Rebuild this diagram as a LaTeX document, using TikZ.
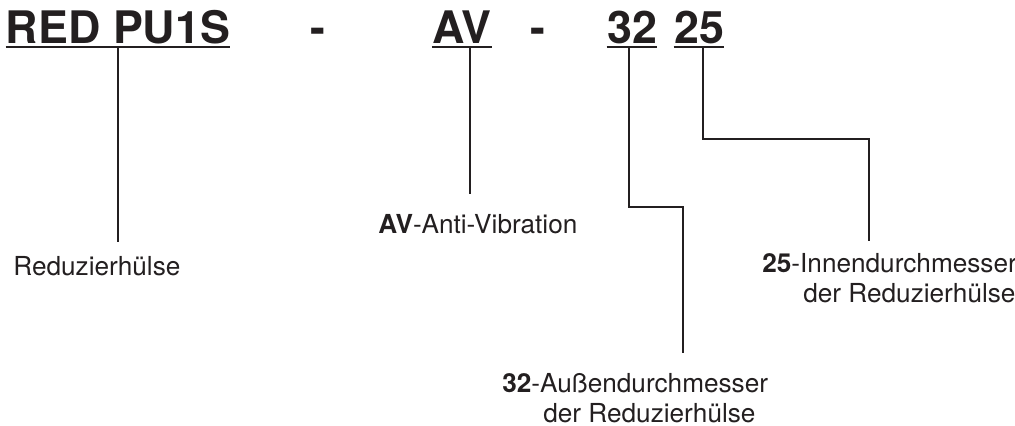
\documentclass[tikz,border=0pt]{standalone}
\usepackage{fontspec}
\setmainfont{TeX Gyre Heros}
\definecolor{ink}{RGB}{35,31,32}
\tikzset{
  code/.style={font=\fontsize{25.5pt}{30pt}\selectfont\bfseries, text=ink, inner sep=0, anchor=base},
  lab/.style={font=\fontsize{14.9pt}{17.07pt}\selectfont, text=ink, inner sep=0, align=left},
  uline/.style={draw=ink, line width=1.2pt},
  lead/.style={draw=ink, line width=1.25pt}
}
\begin{document}
\begin{tikzpicture}[x=0.02cm, y=-0.02cm]
  \useasboundingbox (0,0) rectangle (1015,426);
  \coordinate (ul) at (0,47);
  % type code
  \node[code] (red) at (118,43) {RED PU1S};
  \node[code] (dash1) at (318,43) {-};
  \node[code] (av) at (462,43) {AV};
  \node[code] (dash2) at (538,43) {-};
  \node[code] (n32) at (632,43) {32};
  \node[code] (n25) at (699,43) {25};
  \foreach \n in {red,av,n32,n25}
    \draw[uline] (\n.base west |- ul) -- (\n.base east |- ul);
  % labels
  \node[lab, anchor=base west] (redlab) at (13,275) {Reduzierhülse};
  \node[lab, anchor=base west] (avlab) at (378,233) {\textbf{AV}-Anti-Vibration};
  \node[lab, anchor=north west] (lab32) at (502,373) {\textbf{32}-Außendurchmesser\\\hspace*{0.82cm}der Reduzierhülse};
  \node[lab, anchor=north west] (lab25) at (762,253) {\textbf{25}-Innendurchmesser\\\hspace*{0.82cm}der Reduzierhülse};
  % leaders
  \coordinate (k32) at (683,207);
  \coordinate (k25) at (869,139);
  \draw[lead, shorten >=0.28cm] (red.base |- ul) -- (red.base |- redlab.north);
  \draw[lead, shorten >=0.39cm] ([xshift=0.16cm]av.base |- ul) -- ([xshift=0.16cm]av.base |- avlab.north);
  \draw[lead, shorten >=0.4cm] ([xshift=-0.06cm]n32.base |- ul) |- (k32) -- (k32 |- lab32.north);
  \draw[lead, shorten >=0.24cm] ([xshift=0.08cm]n25.base |- ul) |- (k25) -- (k25 |- lab25.north);
\end{tikzpicture}
\end{document}
